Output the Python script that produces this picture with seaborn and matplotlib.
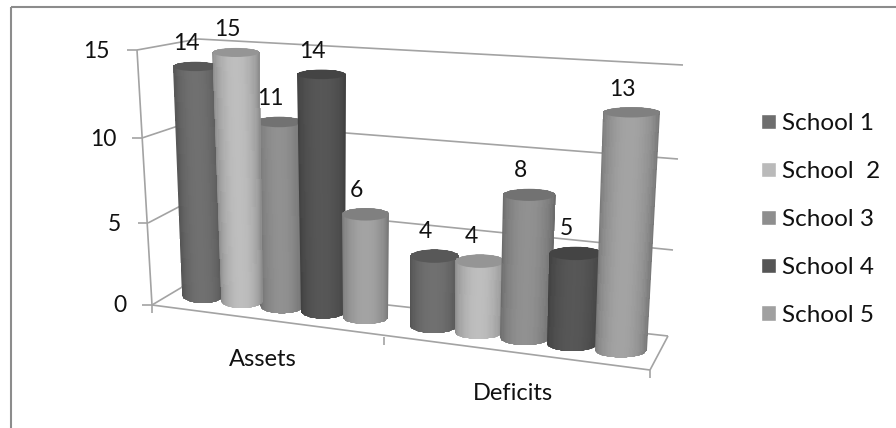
import numpy as np
import pandas as pd
import seaborn as sns
import matplotlib
matplotlib.use("Agg")
import matplotlib.pyplot as plt
import matplotlib.transforms as mtrans
from matplotlib.path import Path
from matplotlib.patches import Ellipse
from matplotlib.colors import to_rgb

groups = ["Assets", "Deficits"]
schools = ["School 1", "School  2", "School 3", "School 4", "School 5"]
assets = [14, 15, 11, 14, 6]
deficits = [4, 4, 8, 5, 13]
body_colors = ["#6e6e6e", "#bababa", "#8e8e8e", "#555555", "#a0a0a0"]
y_ticks = [0, 5, 10, 15]

GRID = "#a3a3a3"
FRAME = "#8c8c8c"
FONT = "Lato"

sns.set_theme(style="white")
plt.rcParams["font.family"] = [FONT, "DejaVu Sans"]

df = pd.DataFrame({
    "group": [g for g in groups for _ in schools],
    "school": schools * 2,
    "value": assets + deficits,
})


class Perspective(mtrans.Transform):
    """Maps (category position, value) onto the image plane of the 3-D floor and walls."""
    input_dims = 2
    output_dims = 2
    is_separable = False
    has_inverse = False

    def transform_non_affine(self, values):
        values = np.asarray(values, dtype=float)
        u, v = values[:, 0], values[:, 1]
        xb = 282 + 226 * u + 17 * u ** 2
        yb = 296 + 0.129 * (xb - 202)
        scale = 16.4 + 0.0045 * (xb - 202)
        return np.column_stack([xb + 0.0032 * (xb - 366) * v, yb - scale * v])


def ry(y):
    return 3.96 + 0.0107 * y


fig = plt.figure(figsize=(8.96, 4.28), dpi=100, facecolor="white")
base_ax = fig.add_axes([0, 0, 1, 1])
sns.barplot(data=df, x="group", y="value", hue="school", hue_order=schools, order=groups,
            palette=body_colors, saturation=1, width=0.9, gap=0, legend=True, ax=base_ax)
handles, labels = base_ax.get_legend_handles_labels()
base_ax.get_legend().remove()
base_ax.axis("off")

# overlay axes in image coordinates, sharing the figure area with the bar axes
ax = fig.add_axes([0, 0, 1, 1], facecolor="none")
ax.set_autoscale_on(False)
ax.set_xlim(0, 896)
ax.set_ylim(428, 0)
ax.axis("off")

proj = Perspective()
to_px = proj + ax.transData


def seg(x0, y0, x1, y1, color=GRID, lw=1.2, z=1):
    ax.plot([x0, x1], [y0, y1], color=color, lw=lw, zorder=z, solid_capstyle="butt")


# chart frame
seg(11, 7, 896, 7, FRAME, 1.5)
seg(11, 7, 11, 428, FRAME, 1.5)

# walls, floor and value axis
front_left = [(152, 305), (148, 223), (142, 138), (137, 50)]
back_left = [(189, 283), (190, 201), (193, 121), (198, 39)]
back_right = [(668, 336), (673, 250), (678, 159), (683, 65)]
label_right = [126, 121, 116, 110]
for t, fl, bl, br, lr in zip(y_ticks, front_left, back_left, back_right, label_right):
    seg(*fl, *bl)
    seg(*bl, *br)
    seg(fl[0] - 10, fl[1], *fl)
    ax.text(lr, fl[1] + 1, str(t), ha="right", va="center", fontsize=16.5, color="#111111")
seg(*front_left[0], *front_left[-1])
seg(152, 305, 650, 370)
seg(650, 370, 668, 336)
seg(152, 305, 152, 313)
seg(384, 337, 384, 345)
seg(650, 370, 650, 378)

# cylinders (School 2 of the first group sits in front of School 3)
asset_rank = [0, 2, 1, 3, 4]
for i, (container, base) in enumerate(zip(base_ax.containers, body_colors)):
    g = to_rgb(base)[0]
    for j, bar in enumerate(container):
        z = 3 + (asset_rank[i] if j == 0 else i) + 10 * j
        bar.set_transform(to_px)
        bar.set_zorder(z)
        c, half, val = bar.get_x() + bar.get_width() / 2, bar.get_width() / 2 * 1.06, bar.get_height()
        half_top = half * (1 + 0.005 * val)
        (xl0, yl0), (xr0, yr0), (xc0, yc0), (xl1, yl1), (xr1, yr1), (xc1, yc1) = proj.transform(
            [[c - half, 0], [c + half, 0], [c, 0], [c - half_top, val], [c + half_top, val], [c, val]])
        r0, r1 = ry(yc0), ry(yc1)
        th = np.linspace(0, np.pi, 40)
        top_x = xc1 - (xr1 - xl1) / 2 * np.cos(th)
        top_y = yc1 - r1 * np.sin(th)
        bot_x = xc0 + (xr0 - xl0) / 2 * np.cos(th)
        bot_y = yc0 + r0 * np.sin(th)
        outline = np.column_stack([np.r_[top_x, bot_x, top_x[0]], np.r_[top_y, bot_y, top_y[0]]])
        t = np.linspace(0, 1, 41)
        mids = (t[:-1] + t[1:]) / 2
        shade = np.clip(g * (0.72 + 0.30 * np.sin(np.pi * mids) ** 0.6), 0, 1)
        U = np.vstack([c - half + 2 * half * t, c - half_top + 2 * half_top * t])
        V = np.vstack([np.full_like(t, -1.0), np.full_like(t, val + 1.0)])
        mesh = ax.pcolormesh(U, V, shade[None, :], cmap="gray", vmin=0, vmax=1,
                             transform=to_px, zorder=z + 0.1, shading="flat")
        mesh.set_clip_path(Path(outline), ax.transData)
        ax.add_patch(Ellipse((xc1, yc1), xr1 - xl1 - 1, 2 * r1,
                             facecolor=str(g * 0.8), edgecolor="none", zorder=z + 0.2))
        ax.annotate(str(int(val)), xy=(xc1, yc1 - r1), xytext=(-9, 18), textcoords="offset pixels",
                    ha="center", va="center", fontsize=16.5, color="#111111", zorder=60)

# category labels
ax.text(263, 360, groups[0], ha="center", va="center", fontsize=17, color="#111111")
ax.text(513, 394, groups[1], ha="center", va="center", fontsize=17, color="#111111")

leg = ax.legend(handles, labels, loc="upper left", bbox_to_anchor=(761 / 896, 1 - 113 / 428),
                frameon=False, fontsize=17.5, handlelength=0.62, handleheight=0.62,
                handletextpad=0.25, labelspacing=1.11, borderpad=0, borderaxespad=0,
                labelcolor="#111111")

fig.savefig("out.png", dpi=100)
